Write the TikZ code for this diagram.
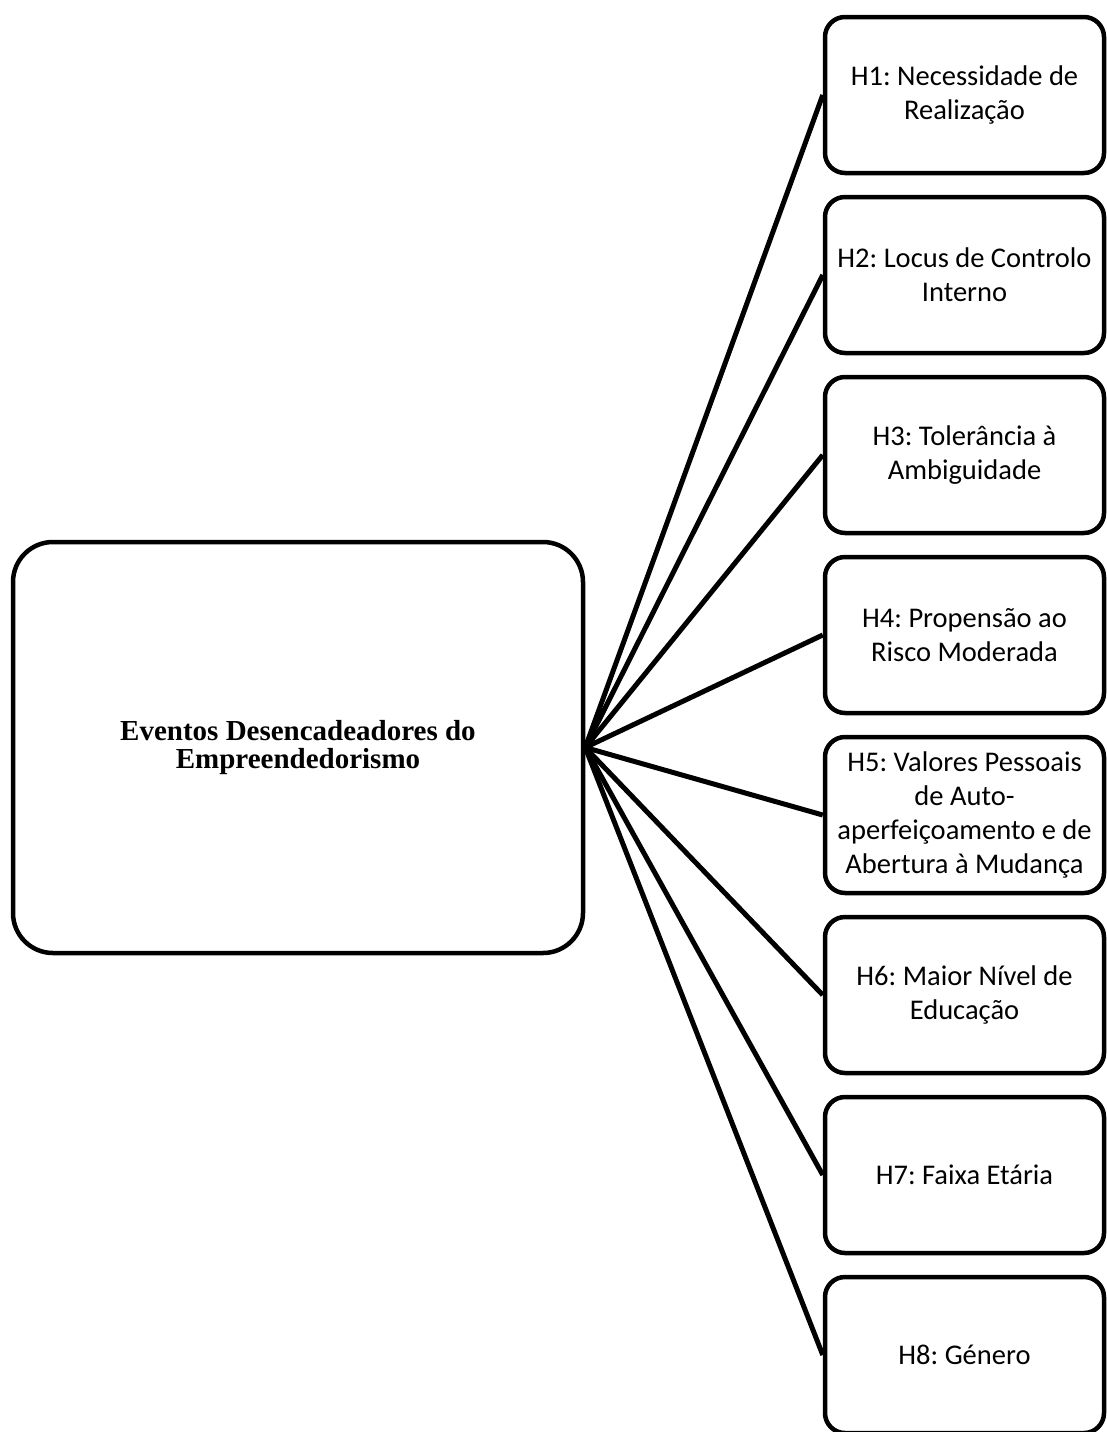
\documentclass[tikz,border=0pt]{standalone}
\usepackage{fontspec}
\setmainfont{Liberation Serif}
\newfontfamily\calib{Carlito}
\frenchspacing
\begin{document}
\begin{tikzpicture}[x=1pt,y=-1pt,
  hbox/.style={draw, line width=4.5pt, rounded corners=20pt, minimum width=279pt,
    minimum height=156pt, align=center, inner sep=0pt,
    font=\calib\fontsize{28.5}{34}\selectfont},
  mainbox/.style={draw, line width=4.5pt, rounded corners=40pt, minimum width=570pt,
    minimum height=411pt, align=center, inner sep=0pt,
    font=\bfseries\fontsize{29}{28}\selectfont},
  link/.style={line width=5pt}]
\useasboundingbox (0,0) rectangle (1106,1432);
\node[mainbox] (M) at (298,747.5) {Eventos Desencadeadores do\\Empreendedorismo};
\node[hbox] (H1) at (964.5,95) {H1: Necessidade de\\Realização};
\node[hbox] (H2) at (964.5,275) {H2: Locus de Controlo\\Interno};
\node[hbox] (H3) at (964.5,455) {H3: Tolerância à\\Ambiguidade};
\node[hbox] (H4) at (964.5,635) {H4: Propensão ao\\Risco Moderada};
\node[hbox] (H5) at (964.5,815) {H5: Valores Pessoais\\de Auto-\\aperfeiçoamento e de\\Abertura à Mudança};
\node[hbox] (H6) at (964.5,995) {H6: Maior Nível de\\Educação};
\node[hbox] (H7) at (964.5,1175) {H7: Faixa Etária};
\node[hbox] (H8) at (964.5,1355) {H8: Género};
\foreach \n in {H1,H2,H3,H4,H5,H6,H7,H8}
  \draw[link] (M.east) -- (\n.west);
\end{tikzpicture}
\end{document}
